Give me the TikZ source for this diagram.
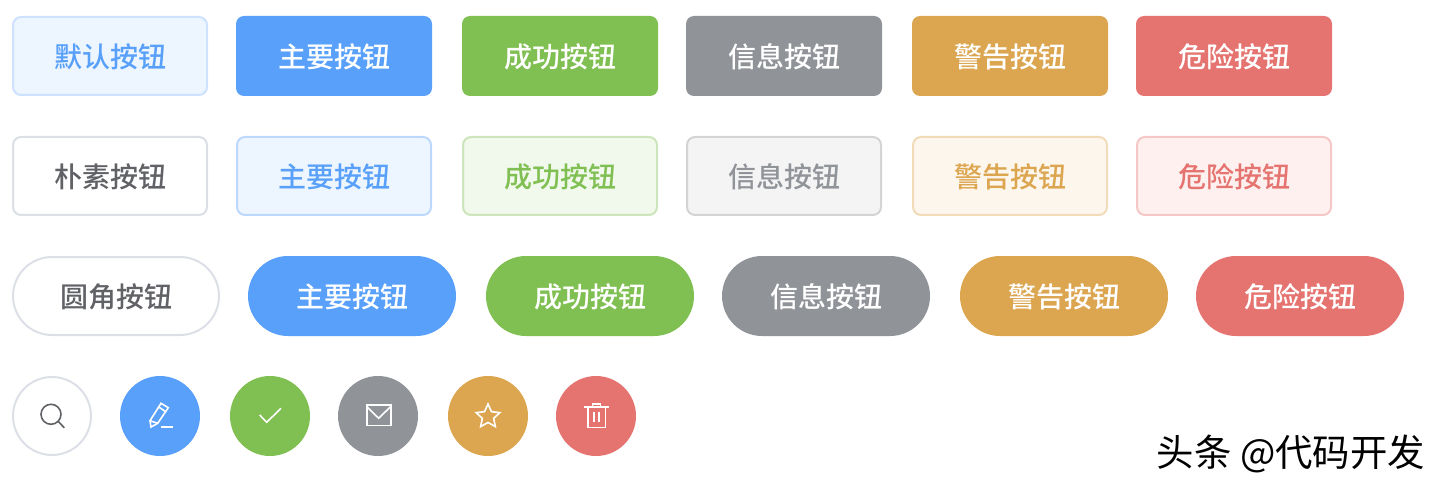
\documentclass[tikz,border=0pt]{standalone}
\usepackage{fontspec}
\setmainfont{Noto Sans CJK SC Medium}
\newfontfamily\markfont{Noto Sans CJK SC}
\usetikzlibrary{shapes.geometric}
\definecolor{bluebtn}{HTML}{58A0FA}
\definecolor{greenbtn}{HTML}{80BF52}
\definecolor{greybtn}{HTML}{909398}
\definecolor{orangebtn}{HTML}{DCA550}
\definecolor{redbtn}{HTML}{E57470}
\definecolor{darktext}{HTML}{606266}
\definecolor{lineplain}{HTML}{DCDFE6}
\definecolor{orangesoft}{HTML}{FDF6EC}
\definecolor{redsoft}{HTML}{FDF0EF}
\begin{document}
\begin{tikzpicture}
		[x=0.5pt,y=-0.5pt,
		btn/.style={rectangle,inner sep=0pt,text height=12.8pt,text depth=1.7pt,font=\fontsize{14pt}{16pt}\selectfont},
		solid/.style={btn,draw=none,fill=#1,text=white,minimum width=98pt,minimum height=40pt,rounded corners=4pt},
		soft/.style n args={3}{btn,line width=1pt,draw=#1,fill=#2,text=#3,minimum width=97pt,minimum height=39pt,rounded corners=4pt},
		pill/.style={btn,draw=none,fill=#1,text=white,minimum width=104pt,minimum height=40pt,rounded corners=20pt},
		pilloff/.style={btn,line width=1pt,draw=lineplain,fill=white,text=darktext,minimum width=103pt,minimum height=39pt,rounded corners=19.5pt},
		round/.style={circle,inner sep=0pt,draw=none,fill=#1,minimum size=40pt},
		roundoff/.style={circle,inner sep=0pt,line width=1pt,draw=lineplain,fill=white,minimum size=39pt},
		icon/.style={draw=white,line width=0.8pt,line join=miter}
		]
		\useasboundingbox (0,0) rectangle (1438,486);

		% first row
		\node[soft={bluebtn!30!white}{bluebtn!11!white}{bluebtn}] (default) at (110,56){默认按钮};
		\node[solid=bluebtn] (mainone) at (334,56){主要按钮};
		\node[solid=greenbtn] (okone) at (560,56){成功按钮};
		\node[solid=greybtn] (infoone) at (784,56){信息按钮};
		\node[solid=orangebtn] (warnone) at (1010,56){警告按钮};
		\node[solid=redbtn] (dangerone) at (1234,56){危险按钮};

		% second row
		\node[soft={lineplain}{white}{darktext}] (plain) at (110,176){朴素按钮};
		\node[soft={bluebtn!40!white}{bluebtn!11!white}{bluebtn}] (maintwo) at (334,176){主要按钮};
		\node[soft={greenbtn!40!white}{greenbtn!11!white}{greenbtn}] (oktwo) at (560,176){成功按钮};
		\node[soft={greybtn!40!white}{greybtn!10!white}{greybtn}] (infotwo) at (784,176){信息按钮};
		\node[soft={orangebtn!40!white}{orangesoft}{orangebtn}] (warntwo) at (1010,176){警告按钮};
		\node[soft={redbtn!40!white}{redsoft}{redbtn}] (dangertwo) at (1234,176){危险按钮};

		% third row
		\node[pilloff] (rounded) at (116,296){圆角按钮};
		\node[pill=bluebtn] (mainthree) at (352,296){主要按钮};
		\node[pill=greenbtn] (okthree) at (590,296){成功按钮};
		\node[pill=greybtn] (infothree) at (826,296){信息按钮};
		\node[pill=orangebtn] (warnthree) at (1064,296){警告按钮};
		\node[pill=redbtn] (dangerthree) at (1300,296){危险按钮};

		% icon buttons
		\node[roundoff] (search) at (52,416){};
		\node[round=bluebtn] (edit) at (160,416){};
		\node[round=greenbtn] (check) at (270,416){};
		\node[round=greybtn] (mail) at (378,416){};
		\node[round=orangebtn] (favourite) at (488,416){};
		\node[round=redbtn] (trash) at (596,416){};

		\begin{scope}[shift={(search.center)}]
			\draw[icon,draw=darktext] (-1,-1.7) circle (10);
			\draw[icon,draw=darktext] (5.7,5) -- (12.3,11.7);
		\end{scope}
		\begin{scope}[shift={(edit.center)}]
			\draw[icon] (-10,4.7) -- (-9,11) -- (-2.3,7.3) -- (8.3,-8.3) -- (1,-12.7) -- cycle;
			\draw[icon] (-1.7,-9.3) -- (5.7,-4.3);
			\draw[icon] (-10,4.7) -- (-2.3,7.3);
			\draw[icon] (0.7,10.7) -- (12.7,10.7);
		\end{scope}
		\begin{scope}[shift={(check.center)}]
			\draw[icon] (-10.3,-1) -- (-3.3,6.3) -- (11,-7.7);
		\end{scope}
		\begin{scope}[shift={(mail.center)}]
			\draw[icon] (-11.3,-11) rectangle (12.7,9.3);
			\draw[icon] (-11.3,-9.5) -- (0.7,2.3) -- (12.7,-9.5);
		\end{scope}
		\node[star,star points=5,star point ratio=2.1,icon,inner sep=0pt,minimum size=12.5pt] (staricon) at (488,416.5){};
		\begin{scope}[shift={(trash.center)}]
			\draw[icon] (-12,-9) -- (12.7,-9);
			\draw[icon] (-3.7,-9) -- (-3.7,-12.3) -- (4.3,-12.3) -- (4.3,-9);
			\draw[icon] (-8.3,-9) -- (-8.3,11.3) -- (9.3,11.3) -- (9.3,-9);
			\draw[icon] (-2.3,-4.3) -- (-2.3,5.7);
			\draw[icon] (2.7,-4.3) -- (2.7,5.7);
		\end{scope}

		\node[inner sep=0pt,font=\markfont\fontsize{18.7pt}{20pt}\selectfont] (mark) at (1291,453.5){头条 @代码开发};
	\end{tikzpicture}
\end{document}
